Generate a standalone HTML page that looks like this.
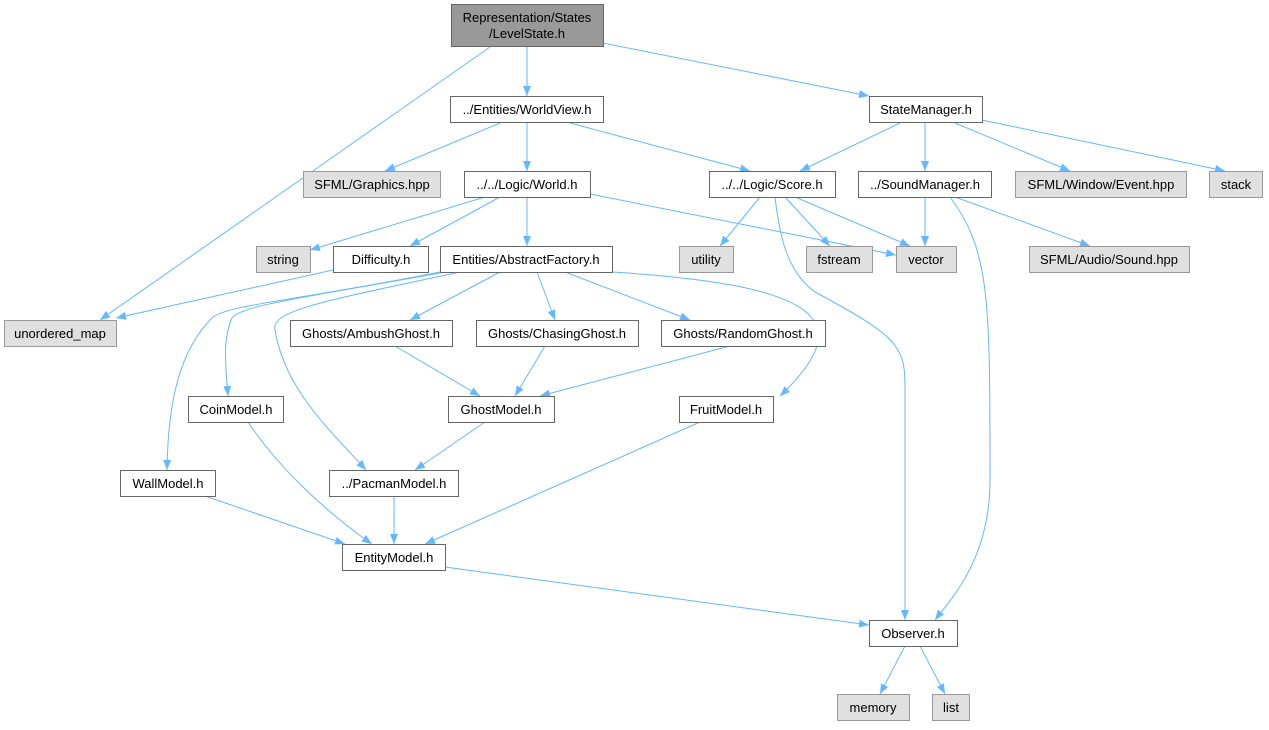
<!DOCTYPE html>
<html><head><meta charset="utf-8"><style>
html,body{margin:0;padding:0;background:#fff;}
svg text{font-family:"Liberation Sans",sans-serif;font-size:13px;fill:#000;text-anchor:middle;}
.n rect{fill:#fff;stroke:#666;stroke-width:1;}
.g rect{fill:#e0e0e0;stroke:#999;stroke-width:1;}
.e{fill:none;stroke:#63b8ff;stroke-width:1;marker-end:url(#a);}
</style></head><body>
<svg width="1269" height="725" viewBox="0 0 1269 725" xmlns="http://www.w3.org/2000/svg">
<defs><marker id="a" markerWidth="10" markerHeight="8" refX="10" refY="4" orient="auto" markerUnits="userSpaceOnUse"><path d="M0,0 L10,4 L0,8 z" fill="#63b8ff"/></marker></defs>
<g>
<path class="e" d="M490,47 L100,320"/>
<path class="e" d="M527,47 L527,96"/>
<path class="e" d="M603,43 L869,96"/>
<path class="e" d="M500,123 L385,171"/>
<path class="e" d="M527,123 L527,171"/>
<path class="e" d="M570,123 L750,171"/>
<path class="e" d="M900,123 L800,171"/>
<path class="e" d="M925,123 L925,171"/>
<path class="e" d="M955,123 L1070,171"/>
<path class="e" d="M982,120 L1225,171"/>
<path class="e" d="M485,197 L310,250"/>
<path class="e" d="M500,197 L410,246"/>
<path class="e" d="M527,197 L527,246"/>
<path class="e" d="M590,194 L896,255"/>
<path class="e" d="M760,197 L720,246"/>
<path class="e" d="M785,197 L830,246"/>
<path class="e" d="M795,197 L910,246"/>
<path class="e" d="M775,197 C780,240 788,272 815,292 C895,335 905,345 905,385 L905,620"/>
<path class="e" d="M925,197 L925,246"/>
<path class="e" d="M955,197 L1090,246"/>
<path class="e" d="M950,197 C990,250 990,300 990,480 C990,560 950,600 935,620"/>
<path class="e" d="M333,270 L116,318"/>
<path class="e" d="M500,272 L410,320"/>
<path class="e" d="M537,272 L555,320"/>
<path class="e" d="M565,272 L690,320"/>
<path class="e" d="M612,272 C820,285 860,320 780,396"/>
<path class="e" d="M445,272 C320,295 240,305 232,318 C222,340 226,370 228,396"/>
<path class="e" d="M440,272 C300,300 225,305 212,318 C180,350 168,400 167,470"/>
<path class="e" d="M460,272 C330,300 270,310 275,330 C285,390 330,430 366,470"/>
<path class="e" d="M395,346 L480,396"/>
<path class="e" d="M545,346 L515,396"/>
<path class="e" d="M730,346 L540,396"/>
<path class="e" d="M485,422 L415,470"/>
<path class="e" d="M248,422 C280,470 330,515 372,544"/>
<path class="e" d="M700,422 L425,544"/>
<path class="e" d="M205,496 L345,544"/>
<path class="e" d="M394,496 L394,544"/>
<path class="e" d="M445,567 L869,625"/>
<path class="e" d="M905,646 L880,694"/>
<path class="e" d="M920,646 L945,694"/>
</g>
<g class="n"><rect x="451.5" y="4.5" width="152" height="42" style="fill:#999;stroke:#666"/><text x="527" y="22">Representation/States</text><text x="527" y="38">/LevelState.h</text></g>
<g class="n"><rect x="450.5" y="96.5" width="153" height="26"/><text x="527" y="114">../Entities/WorldView.h</text></g>
<g class="n"><rect x="869.5" y="96.5" width="113" height="26"/><text x="926" y="114">StateManager.h</text></g>
<g class="g"><rect x="303.5" y="171.5" width="137" height="26"/><text x="372" y="189">SFML/Graphics.hpp</text></g>
<g class="n"><rect x="464.5" y="171.5" width="126" height="26"/><text x="527" y="189">../../Logic/World.h</text></g>
<g class="n"><rect x="709.5" y="171.5" width="126" height="26"/><text x="772" y="189">../../Logic/Score.h</text></g>
<g class="n"><rect x="858.5" y="171.5" width="133" height="26"/><text x="925" y="189">../SoundManager.h</text></g>
<g class="g"><rect x="1015.5" y="171.5" width="171" height="26"/><text x="1101" y="189">SFML/Window/Event.hpp</text></g>
<g class="g"><rect x="1209.5" y="171.5" width="53" height="26"/><text x="1236" y="189">stack</text></g>
<g class="g"><rect x="256.5" y="246.5" width="54" height="26"/><text x="283" y="264">string</text></g>
<g class="n"><rect x="333.5" y="246.5" width="95" height="26"/><text x="381" y="264">Difficulty.h</text></g>
<g class="n"><rect x="440.5" y="246.5" width="172" height="26"/><text x="526" y="264">Entities/AbstractFactory.h</text></g>
<g class="g"><rect x="679.5" y="246.5" width="54" height="26"/><text x="706" y="264">utility</text></g>
<g class="g"><rect x="806.5" y="246.5" width="66" height="26"/><text x="839" y="264">fstream</text></g>
<g class="g"><rect x="896.5" y="246.5" width="60" height="26"/><text x="926" y="264">vector</text></g>
<g class="g"><rect x="1029.5" y="246.5" width="160" height="26"/><text x="1109" y="264">SFML/Audio/Sound.hpp</text></g>
<g class="g"><rect x="4.5" y="320.5" width="112" height="26"/><text x="60" y="338">unordered_map</text></g>
<g class="n"><rect x="290.5" y="320.5" width="162" height="26"/><text x="371" y="338">Ghosts/AmbushGhost.h</text></g>
<g class="n"><rect x="476.5" y="320.5" width="162" height="26"/><text x="557" y="338">Ghosts/ChasingGhost.h</text></g>
<g class="n"><rect x="661.5" y="320.5" width="164" height="26"/><text x="743" y="338">Ghosts/RandomGhost.h</text></g>
<g class="n"><rect x="188.5" y="396.5" width="95" height="26"/><text x="236" y="414">CoinModel.h</text></g>
<g class="n"><rect x="448.5" y="396.5" width="106" height="26"/><text x="501" y="414">GhostModel.h</text></g>
<g class="n"><rect x="679.5" y="396.5" width="94" height="26"/><text x="726" y="414">FruitModel.h</text></g>
<g class="n"><rect x="120.5" y="470.5" width="95" height="26"/><text x="168" y="488">WallModel.h</text></g>
<g class="n"><rect x="329.5" y="470.5" width="129" height="26"/><text x="394" y="488">../PacmanModel.h</text></g>
<g class="n"><rect x="342.5" y="544.5" width="103" height="26"/><text x="394" y="562">EntityModel.h</text></g>
<g class="n"><rect x="869.5" y="620.5" width="88" height="26"/><text x="913" y="638">Observer.h</text></g>
<g class="g"><rect x="837.5" y="694.5" width="72" height="26"/><text x="873" y="712">memory</text></g>
<g class="g"><rect x="932.5" y="694.5" width="37" height="26"/><text x="951" y="712">list</text></g>
</svg>
</body></html>
